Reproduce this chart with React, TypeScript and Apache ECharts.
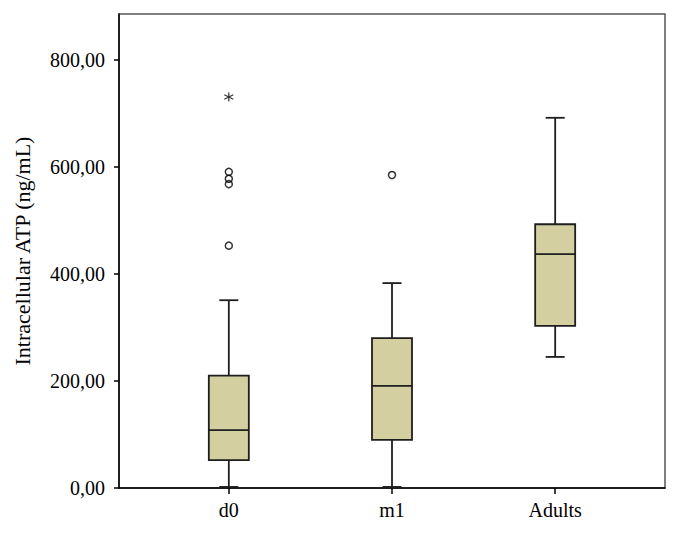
import React, { useEffect, useRef } from "react";
import * as echarts from "echarts";

const categories = ["d0", "m1", "Adults"];
// [x position, min, Q1, median, Q3, max]
const boxData = [
  [1, 2, 52, 108, 210, 351],
  [2, 2, 90, 191, 280, 383],
  [3, 245, 303, 437, 493, 692],
];
const outliers = [
  [1, 591],
  [1, 578],
  [1, 568],
  [1, 453],
  [2, 585],
];
const extremes = [[1, 731]];
const yTicks = [0, 200, 400, 600, 800];

const FONT = "Liberation Serif";

export default function App() {
  const ref = useRef<HTMLDivElement>(null);
  useEffect(() => {
    if (!ref.current) return;
    const chart = echarts.init(ref.current, null, { renderer: "svg" });
    const BOX_W = 40;
    const CAP_W = 19;
    const stroke = "#1e1e1e";
    chart.setOption({
      animation: false,
      backgroundColor: "#fff",
      grid: {
        left: 119,
        top: 14,
        right: 15,
        bottom: 45,
        show: true,
        borderColor: "#555",
        borderWidth: 1.5,
        backgroundColor: "transparent",
      },
      xAxis: {
        type: "value",
        min: 0.327,
        max: 3.673,
        splitLine: { show: false },
        axisLine: { show: true, lineStyle: { color: "#000", width: 1.5 } },
        axisTick: {
          show: true,
          length: 6,
          customValues: [1, 2, 3],
          lineStyle: { color: "#000", width: 1.5 },
        },
        axisLabel: {
          customValues: [1, 2, 3],
          formatter: (v: number) => categories[Math.round(v) - 1] ?? "",
          color: "#000",
          fontFamily: FONT,
          fontSize: 20,
          margin: 12,
        },
      },
      yAxis: {
        type: "value",
        min: 0,
        max: 886,
        splitLine: { show: false },
        name: "Intracellular ATP (ng/mL)",
        nameLocation: "middle",
        nameGap: 86,
        nameTextStyle: { color: "#000", fontFamily: FONT, fontSize: 22 },
        axisLine: { show: true, lineStyle: { color: "#000", width: 1.5 } },
        axisTick: {
          show: true,
          length: 5,
          customValues: yTicks,
          lineStyle: { color: "#000", width: 1.5 },
        },
        axisLabel: {
          customValues: yTicks,
          formatter: (v: number) =>
            yTicks.includes(v) ? v.toFixed(2).replace(".", ",") : "",
          color: "#000",
          fontFamily: FONT,
          fontSize: 20,
          margin: 14,
        },
      },
      series: [
        {
          type: "custom",
          data: boxData,
          encode: { x: 0, y: [1, 2, 3, 4, 5] },
          renderItem: (params: any, api: any) => {
            const x = api.value(0);
            const pMin = api.coord([x, api.value(1)]);
            const pQ1 = api.coord([x, api.value(2)]);
            const pMed = api.coord([x, api.value(3)]);
            const pQ3 = api.coord([x, api.value(4)]);
            const pMax = api.coord([x, api.value(5)]);
            const cx = pMed[0];
            const ls = { stroke, lineWidth: 1.8 };
            return {
              type: "group",
              children: [
                { type: "line", shape: { x1: cx, y1: pMax[1], x2: cx, y2: pQ3[1] }, style: ls },
                { type: "line", shape: { x1: cx, y1: pQ1[1], x2: cx, y2: pMin[1] }, style: ls },
                { type: "line", shape: { x1: cx - CAP_W / 2, y1: pMax[1], x2: cx + CAP_W / 2, y2: pMax[1] }, style: ls },
                { type: "line", shape: { x1: cx - CAP_W / 2, y1: pMin[1], x2: cx + CAP_W / 2, y2: pMin[1] }, style: ls },
                {
                  type: "rect",
                  shape: { x: cx - BOX_W / 2, y: pQ3[1], width: BOX_W, height: pQ1[1] - pQ3[1] },
                  style: { fill: "#d3cfa1", stroke, lineWidth: 1.8 },
                },
                { type: "line", shape: { x1: cx - BOX_W / 2, y1: pMed[1], x2: cx + BOX_W / 2, y2: pMed[1] }, style: ls },
              ],
            };
          },
        },
        {
          type: "scatter",
          data: outliers,
          symbol: "circle",
          symbolSize: 7,
          itemStyle: { color: "transparent", borderColor: "#000", borderWidth: 1.5 },
        },
        {
          type: "scatter",
          data: extremes,
          symbol: "path://M5,0L5,10M0.67,2.5L9.33,7.5M0.67,7.5L9.33,2.5",
          symbolSize: 9,
          itemStyle: { color: "transparent", borderColor: "#000", borderWidth: 1.2 },
        },
      ],
    });
    return () => chart.dispose();
  }, []);
  return (
    <div
      ref={ref}
      style={{ position: "absolute", left: 0, top: 0, width: 680, height: 533 }}
    />
  );
}
